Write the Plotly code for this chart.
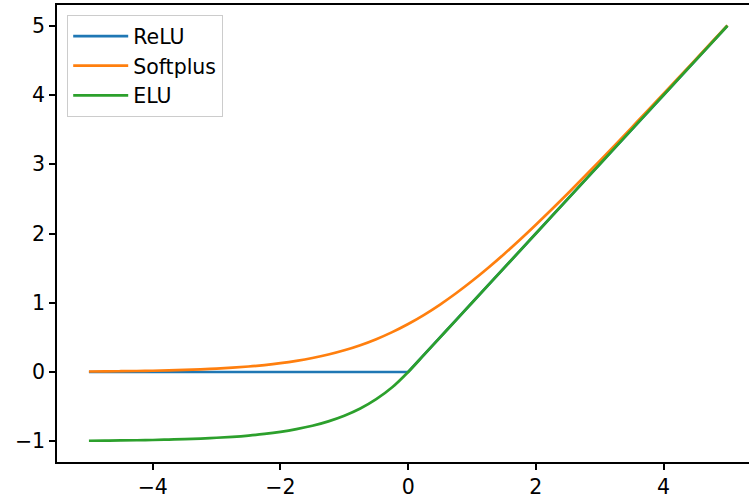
import plotly.graph_objects as go

x_vals = [-5.0, -4.75, -4.5, -4.25, -4.0, -3.75, -3.5, -3.25, -3.0, -2.75, -2.5,
          -2.25, -2.0, -1.75, -1.5, -1.25, -1.0, -0.75, -0.5, -0.25, 0.0,
          0.25, 0.5, 0.75, 1.0, 1.25, 1.5, 1.75, 2.0, 2.25, 2.5,
          2.75, 3.0, 3.25, 3.5, 3.75, 4.0, 4.25, 4.5, 4.75, 5.0]
relu_vals = [0, 0, 0, 0, 0, 0, 0, 0, 0, 0, 0,
             0, 0, 0, 0, 0, 0, 0, 0, 0, 0,
             0.25, 0.5, 0.75, 1.0, 1.25, 1.5, 1.75, 2.0, 2.25, 2.5,
             2.75, 3.0, 3.25, 3.5, 3.75, 4.0, 4.25, 4.5, 4.75, 5.0]
softplus_vals = [0.0067, 0.0086, 0.0110, 0.0141, 0.0181, 0.0232, 0.0297, 0.0380, 0.0486, 0.0620, 0.0789,
                 0.1003, 0.1269, 0.1602, 0.2014, 0.2519, 0.3133, 0.3868, 0.4741, 0.5759, 0.6931,
                 0.8259, 0.9741, 1.1368, 1.3133, 1.5019, 1.7014, 1.9102, 2.1269, 2.3503, 2.5789,
                 2.8120, 3.0486, 3.2880, 3.5297, 3.7732, 4.0181, 4.2641, 4.5110, 4.7586, 5.0067]
elu_vals = [-0.993, -0.991, -0.989, -0.986, -0.982, -0.976, -0.970, -0.961, -0.950, -0.936, -0.918,
            -0.895, -0.865, -0.826, -0.777, -0.713, -0.632, -0.528, -0.393, -0.221, 0.0,
            0.25, 0.5, 0.75, 1.0, 1.25, 1.5, 1.75, 2.0, 2.25, 2.5,
            2.75, 3.0, 3.25, 3.5, 3.75, 4.0, 4.25, 4.5, 4.75, 5.0]
x_ticks = [-4, -2, 0, 2, 4]
y_ticks = [-1, 0, 1, 2, 3, 4, 5]

W, H = 749, 501
ml, mt, mb = 57, 5, 39
plot_w = W - ml
unit = 63.85
FONT = 20.5

fig = go.Figure()
fig.add_trace(go.Scatter(x=x_vals, y=relu_vals, mode="lines", name="ReLU",
                         line=dict(color="#1f77b4", width=2.7)))
fig.add_trace(go.Scatter(x=x_vals, y=softplus_vals, mode="lines", name="Softplus",
                         line=dict(color="#ff7f0e", width=2.7, shape="spline")))
fig.add_trace(go.Scatter(x=x_vals, y=elu_vals, mode="lines", name="ELU",
                         line=dict(color="#2ca02c", width=2.7, shape="spline")))

fig.update_layout(
    width=W, height=H,
    margin=dict(l=ml, r=0, t=mt, b=mb, pad=0),
    paper_bgcolor="white", plot_bgcolor="white",
    font=dict(family="DejaVu Sans", size=FONT, color="black"),
    showlegend=True,
    legend=dict(x=10 / plot_w, y=1 - 10 / (H - mt - mb), xanchor="left", yanchor="top",
                bgcolor="rgba(255,255,255,0.8)", bordercolor="#cccccc", borderwidth=1.2,
                font=dict(size=FONT), itemwidth=55),
    xaxis=dict(range=[-5.5, -5.5 + plot_w / unit], tickvals=x_ticks, showgrid=False,
               zeroline=False, showline=True, linecolor="black", linewidth=1.5,
               mirror=True, ticks="outside", ticklen=6, tickwidth=1.5, tickcolor="black"),
    yaxis=dict(range=[-1.3, 5.3], tickvals=y_ticks, showgrid=False,
               zeroline=False, showline=True, linecolor="black", linewidth=1.5,
               ticks="outside", ticklen=6, tickwidth=1.5, tickcolor="black"),
)

fig.write_html("out.html")
